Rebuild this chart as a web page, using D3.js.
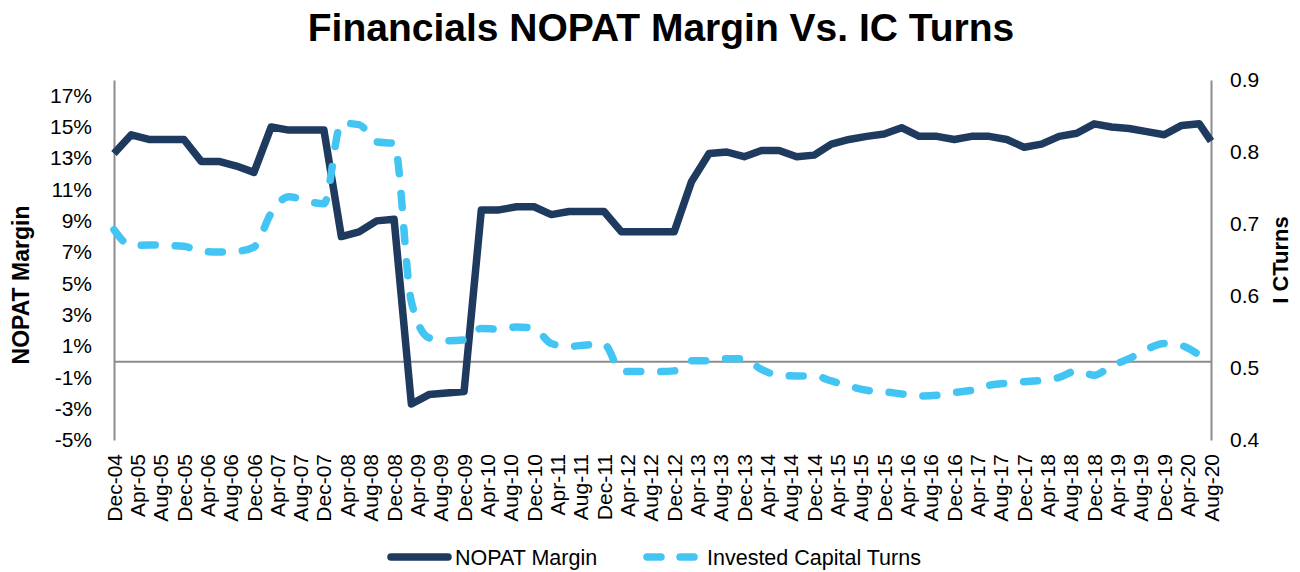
<!DOCTYPE html>
<html>
<head>
<meta charset="utf-8">
<script src="https://cdn.jsdelivr.net/npm/d3@7"></script>
<style>
  body { margin: 0; background: #ffffff; }
  svg { display: block; font-family: Arial, "Liberation Sans", sans-serif; }
</style>
</head>
<body>
<div id="chart"></div>
<script>
// Quarter ends (last point is the latest reading, Aug-20)
var dates = ["Dec-04",
  "Mar-05","Jun-05","Sep-05","Dec-05","Mar-06","Jun-06","Sep-06","Dec-06",
  "Mar-07","Jun-07","Sep-07","Dec-07","Mar-08","Jun-08","Sep-08","Dec-08",
  "Mar-09","Jun-09","Sep-09","Dec-09","Mar-10","Jun-10","Sep-10","Dec-10",
  "Mar-11","Jun-11","Sep-11","Dec-11","Mar-12","Jun-12","Sep-12","Dec-12",
  "Mar-13","Jun-13","Sep-13","Dec-13","Mar-14","Jun-14","Sep-14","Dec-14",
  "Mar-15","Jun-15","Sep-15","Dec-15","Mar-16","Jun-16","Sep-16","Dec-16",
  "Mar-17","Jun-17","Sep-17","Dec-17","Mar-18","Jun-18","Sep-18","Dec-18",
  "Mar-19","Jun-19","Sep-19","Dec-19","Mar-20","Jun-20","Aug-20"];

// NOPAT margin, in percent
var nopatMargin = [13.3,
  14.5, 14.2, 14.2, 14.2, 12.8, 12.8, 12.5, 12.1,
  15.0, 14.8, 14.8, 14.8, 8.0, 8.3, 9.0, 9.1,
  -2.7, -2.1, -2.0, -1.9, 9.7, 9.7, 9.9, 9.9,
  9.4, 9.6, 9.6, 9.6, 8.3, 8.3, 8.3, 8.3,
  11.5, 13.3, 13.4, 13.1, 13.5, 13.5, 13.1, 13.2,
  13.9, 14.2, 14.4, 14.55, 14.95, 14.4, 14.4, 14.2,
  14.4, 14.4, 14.2, 13.7, 13.9, 14.4, 14.6, 15.2,
  15.0, 14.9, 14.7, 14.5, 15.1, 15.2, 14.1];

// Invested capital turns
var icTurns = [0.692,
  0.670, 0.671, 0.670, 0.669, 0.662, 0.661, 0.662, 0.668,
  0.715, 0.738, 0.732, 0.728, 0.840, 0.838, 0.814, 0.812,
  0.592, 0.542, 0.538, 0.539, 0.555, 0.554, 0.557, 0.555,
  0.534, 0.530, 0.532, 0.533, 0.495, 0.495, 0.495, 0.496,
  0.510, 0.510, 0.513, 0.513, 0.498, 0.490, 0.489, 0.489,
  0.482, 0.475, 0.469, 0.467, 0.464, 0.461, 0.462, 0.466,
  0.469, 0.476, 0.479, 0.481, 0.483, 0.487, 0.496, 0.490,
  0.503, 0.513, 0.526, 0.534, 0.531, 0.518, 0.507];

var leftTicks = [-5, -3, -1, 1, 3, 5, 7, 9, 11, 13, 15, 17];
var rightTicks = [0.4, 0.5, 0.6, 0.7, 0.8, 0.9];
var seriesNames = ["NOPAT Margin", "Invested Capital Turns"];

var width = 1300, height = 572;
var margin = { top: 80, right: 89, bottom: 132, left: 114 };
var navy = "#1f3a5f", sky = "#43c5f3", axisGrey = "#8c8c8c";

var parse = d3.timeParse("%b-%y");
var points = dates.map(function(d, i) {
  return { date: parse(d), nopat: nopatMargin[i], ic: icTurns[i] };
});

var svg = d3.select("#chart").append("svg")
  .attr("width", width)
  .attr("height", height);

// Scales
var x = d3.scaleTime()
  .domain([points[0].date, points[points.length - 1].date])
  .range([margin.left, width - margin.right]);

var yLeft = d3.scaleLinear()
  .domain([-5, 18])
  .range([height - margin.bottom, margin.top]);

var yRight = d3.scaleLinear()
  .domain([0.4, 0.9])
  .range([height - margin.bottom, margin.top]);

// Title
svg.append("text")
  .attr("x", 661)
  .attr("y", 41)
  .attr("text-anchor", "middle")
  .style("font-size", "39px")
  .style("font-weight", "bold")
  .text("Financials NOPAT Margin Vs. IC Turns");

// Left axis
var leftAxis = svg.append("g")
  .attr("transform", "translate(" + margin.left + ",0)")
  .call(d3.axisLeft(yLeft).tickValues(leftTicks).tickSize(0).tickPadding(22)
    .tickFormat(function(d) { return d + "%"; }));
leftAxis.select(".domain").attr("stroke", axisGrey).attr("stroke-width", 2);
leftAxis.selectAll("text").style("font-size", "21px").attr("fill", "#000");

// Right axis
var rightAxis = svg.append("g")
  .attr("transform", "translate(" + (width - margin.right) + ",0)")
  .call(d3.axisRight(yRight).tickValues(rightTicks).tickSize(0).tickPadding(19)
    .tickFormat(d3.format(".1f")));
rightAxis.select(".domain").attr("stroke", axisGrey).attr("stroke-width", 2);
rightAxis.selectAll("text").style("font-size", "21px").attr("fill", "#000");

// Category axis runs along 0%, labels sit below the plot
svg.append("line")
  .attr("x1", margin.left).attr("x2", width - margin.right)
  .attr("y1", yLeft(0)).attr("y2", yLeft(0))
  .attr("stroke", axisGrey)
  .attr("stroke-width", 2);

var tickDates = d3.timeMonth.range(points[0].date, d3.timeMonth.offset(points[points.length - 1].date, 1))
  .filter(function(d, i) { return i % 4 === 0; });

svg.append("g").selectAll("text")
  .data(tickDates)
  .enter()
  .append("text")
  .attr("transform", function(d) {
    return "translate(" + x(d) + ",454) rotate(-90)";
  })
  .attr("dy", "0.36em")
  .attr("text-anchor", "end")
  .style("font-size", "21px")
  .text(d3.timeFormat("%b-%y"));

// Axis titles
svg.append("text")
  .attr("transform", "translate(29,285) rotate(-90)")
  .attr("text-anchor", "middle")
  .style("font-size", "23px")
  .style("font-weight", "bold")
  .text("NOPAT Margin");

svg.append("text")
  .attr("transform", "translate(1288,260) rotate(-90)")
  .attr("text-anchor", "middle")
  .style("font-size", "22px")
  .style("font-weight", "bold")
  .text("I CTurns");

// Lines
var nopatLine = d3.line()
  .x(function(d) { return x(d.date); })
  .y(function(d) { return yLeft(d.nopat); });

// smoothed like the Excel series, but without overshooting the points
var icLine = d3.line()
  .curve(d3.curveMonotoneX)
  .x(function(d) { return x(d.date); })
  .y(function(d) { return yRight(d.ic); });

svg.append("path")
  .datum(points)
  .attr("fill", "none")
  .attr("stroke", navy)
  .attr("stroke-width", 7.5)
  .attr("stroke-linejoin", "round")
  .attr("d", nopatLine);

svg.append("path")
  .datum(points)
  .attr("fill", "none")
  .attr("stroke", sky)
  .attr("stroke-width", 7.5)
  .attr("stroke-linecap", "round")
  .attr("stroke-dasharray", "14 20")
  .attr("d", icLine);

// Legend
var legend = svg.append("g");
legend.append("line")
  .attr("x1", 391).attr("x2", 448).attr("y1", 557).attr("y2", 557)
  .attr("stroke", navy).attr("stroke-width", 7.5).attr("stroke-linecap", "round");
legend.append("text")
  .attr("x", 455).attr("y", 557).attr("dy", "0.36em")
  .style("font-size", "21.5px")
  .text(seriesNames[0]);

legend.append("line")
  .attr("x1", 647).attr("x2", 697).attr("y1", 557).attr("y2", 557)
  .attr("stroke", sky).attr("stroke-width", 7.5).attr("stroke-linecap", "round")
  .attr("stroke-dasharray", "14 19");
legend.append("text")
  .attr("x", 707).attr("y", 557).attr("dy", "0.36em")
  .style("font-size", "21.5px")
  .text(seriesNames[1]);
</script>
</body>
</html>
